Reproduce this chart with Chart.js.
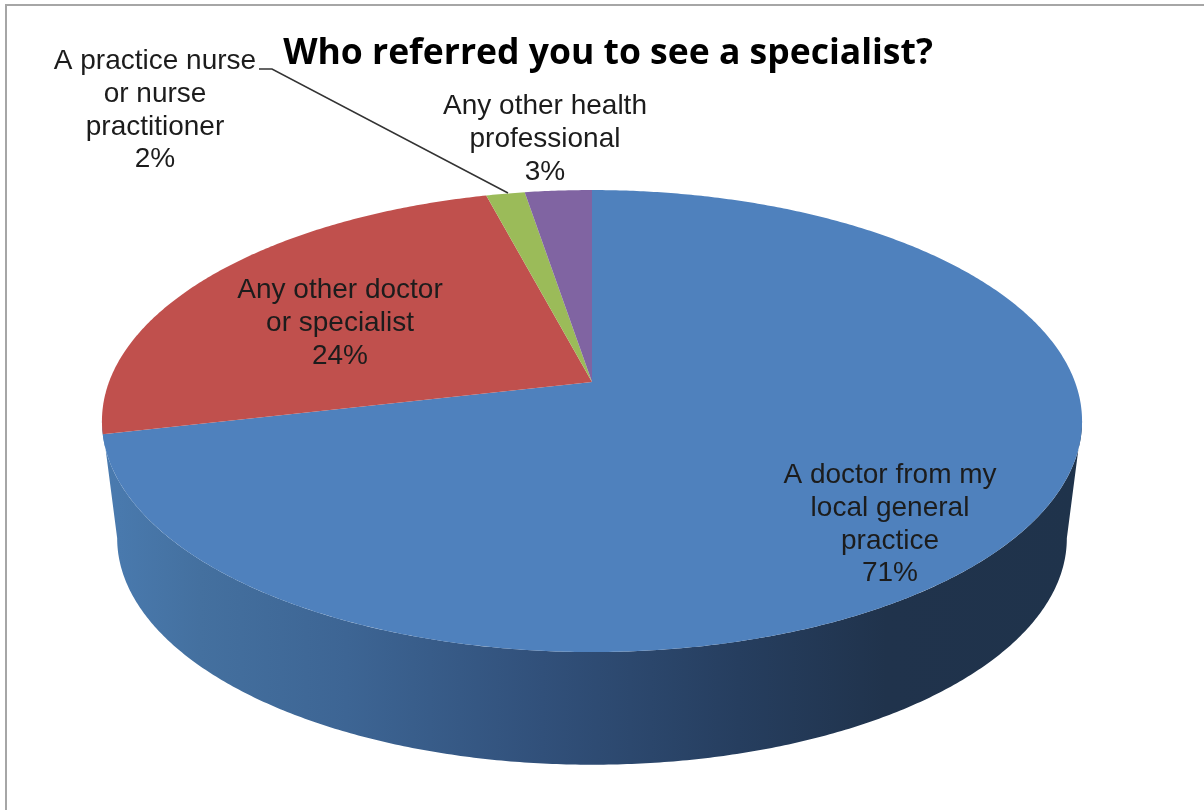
<!DOCTYPE html>
<html>
<head>
<meta charset="utf-8">
<script src="https://cdn.jsdelivr.net/npm/chart.js@4"></script>
<style>
  html, body { margin: 0; background: #fff; overflow: hidden; }
  canvas { display: block; filter: blur(0.4px); }
</style>
</head>
<body>
<canvas id="chart1" width="1204" height="810"></canvas>
<script>
const chartTitle = 'Who referred you to see a specialist?'
const categories = [
    'A doctor from my local general practice',
    'Any other doctor or specialist',
    'A practice nurse or nurse practitioner',
    'Any other health professional'
]
// slice sizes as measured on the picture, the printed labels are rounded
const sliceValues = [71.4, 24.5, 1.5, 2.6]
const percentLabels = ['71%', '24%', '2%', '3%']
const labelLines = [
    ['A doctor from my', 'local general', 'practice'],
    ['Any other doctor', 'or specialist'],
    ['A practice nurse', 'or nurse', 'practitioner'],
    ['Any other health', 'professional']
]
const sliceColors = ['#4F81BD', '#C0504D', '#9BBB59', '#8064A2']

// perspective view of the disc
const k = 0.169
const topFace = { x: 592, y: 382, rx: 483, ry: 224.4 }
const bottomFace = { x: 592, y: 500, rx: 468, ry: 220 }

const project = (face, a, r = 1) => {
    const u = Math.cos(a) * r, v = -Math.sin(a) * r
    const w = 1 + k * v
    return [face.x + face.rx * u / w, face.y - face.ry * v / w]
}

const tracePath = (ctx, face, from, to) => {
    const steps = Math.max(2, Math.ceil(Math.abs(to - from) * 120))
    for (let i = 0; i <= steps; i++) {
        const p = project(face, from + (to - from) * i / steps)
        ctx.lineTo(p[0], p[1])
    }
}

const labelBoxes = [
    { x: 890, y: 483 },
    { x: 340, y: 298 },
    { x: 155, y: 69 },
    { x: 545, y: 114 }
]

const pie3d = {
    id: 'pie3d',
    beforeDraw(chart) {
        const ctx = chart.ctx
        ctx.save()
        ctx.strokeStyle = '#a6a6a6'
        ctx.lineWidth = 2
        ctx.beginPath()
        ctx.moveTo(6, 810)
        ctx.lineTo(6, 5)
        ctx.lineTo(1204, 5)
        ctx.stroke()
        ctx.restore()
    },
    beforeDatasetsDraw(chart) {
        const ctx = chart.ctx
        const arcs = chart.getDatasetMeta(0).data

        // side wall, front half of the rim
        const edge = Math.asin(k)
        const grad = ctx.createLinearGradient(102, 0, 1082, 0)
        grad.addColorStop(0, '#4A7BB0')
        grad.addColorStop(0.1, '#44709F')
        grad.addColorStop(0.25, '#3D6594')
        grad.addColorStop(0.45, '#31507A')
        grad.addColorStop(0.65, '#263E5F')
        grad.addColorStop(0.8, '#20334C')
        grad.addColorStop(1, '#1F334B')
        ctx.save()
        ctx.fillStyle = grad
        ctx.beginPath()
        tracePath(ctx, topFace, edge, Math.PI - edge)
        tracePath(ctx, bottomFace, Math.PI - edge, edge)
        ctx.closePath()
        ctx.fill()

        // top face, angles come from the library's arc elements
        arcs.forEach((arc, i) => {
            const c = project(topFace, 0, 0)
            ctx.fillStyle = sliceColors[i]
            ctx.beginPath()
            ctx.moveTo(c[0], c[1])
            tracePath(ctx, topFace, arc.startAngle, arc.endAngle)
            ctx.closePath()
            ctx.fill()
        })
        ctx.restore()
        return false
    },
    afterDraw(chart) {
        const ctx = chart.ctx
        ctx.save()
        // leader line of the small slice
        ctx.strokeStyle = '#333'
        ctx.lineWidth = 1.5
        ctx.beginPath()
        ctx.moveTo(259, 69)
        ctx.lineTo(272, 69)
        ctx.lineTo(508, 193)
        ctx.stroke()

        ctx.fillStyle = '#1c1c1c'
        ctx.font = '28px "Liberation Sans"'
        ctx.textAlign = 'center'
        ctx.textBaseline = 'alphabetic'
        labelLines.forEach((lines, i) => {
            const box = labelBoxes[i]
            lines.concat(percentLabels[i]).forEach((line, j) => {
                ctx.fillText(line, box.x, box.y + j * 32.8)
            })
        })
        ctx.restore()
    }
}

new Chart(document.getElementById('chart1'), {
    type: 'pie',
    data: {
        labels: categories,
        datasets: [{
            data: sliceValues,
            backgroundColor: sliceColors,
            borderWidth: 0
        }]
    },
    options: {
        responsive: false,
        animation: false,
        layout: { padding: { left: 12 } },
        plugins: {
            legend: { display: false },
            tooltip: { enabled: false },
            title: {
                display: true,
                text: chartTitle,
                color: '#000',
                font: { family: 'Open Sans', size: 35.5, weight: 'bold' },
                padding: { top: 33, bottom: 10 }
            }
        }
    },
    plugins: [pie3d]
})
</script>
</body>
</html>
